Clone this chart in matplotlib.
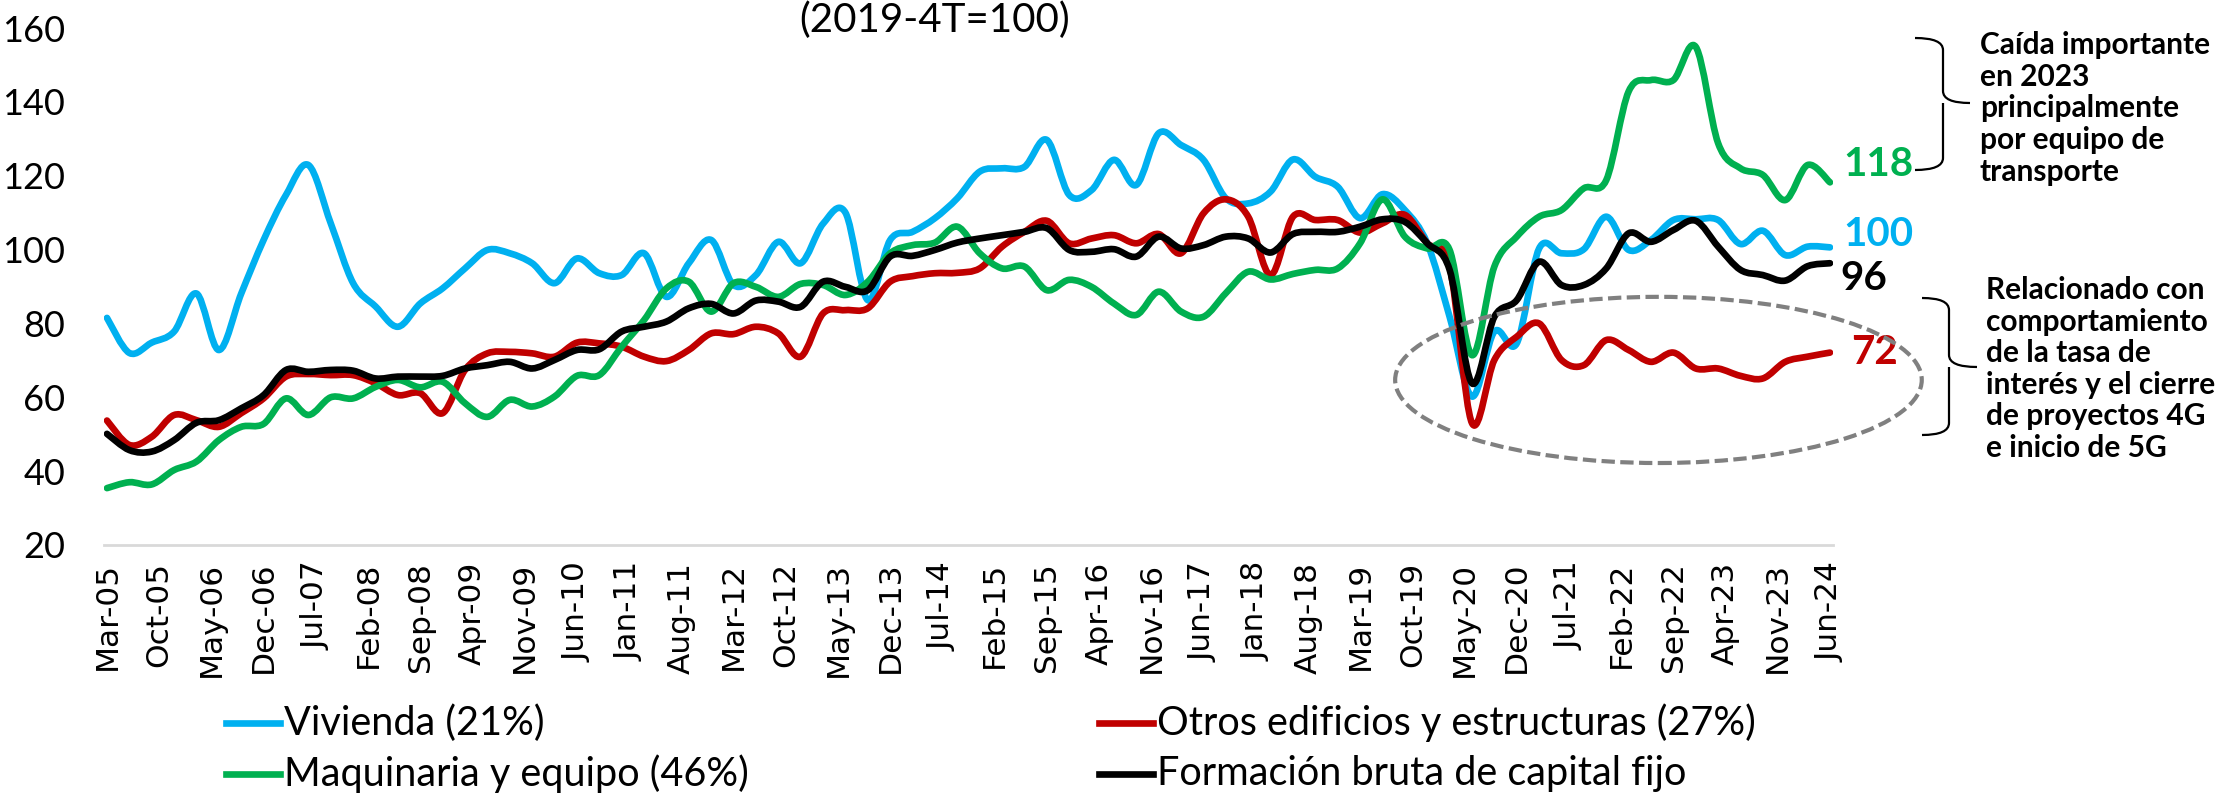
import numpy as np
import matplotlib
matplotlib.use("Agg")
import matplotlib.pyplot as plt
from matplotlib.path import Path
from matplotlib.patches import PathPatch, Ellipse
from matplotlib.lines import Line2D

plt.rcParams["font.family"] = ["Lato", "DejaVu Sans"]

# quarterly index values, Mar-05 .. Jun-24 (2019-4T = 100)
vivienda = [81.5, 72.0, 74.8, 77.8, 88.1, 72.8, 88.1, 102.6, 114.8, 122.9,
            107.1, 90.9, 84.6, 79.1, 85.4, 89.5, 94.9, 99.9, 99.0, 96.3,
            90.9, 97.6, 93.6, 93.1, 99.0, 87.2, 96.3, 102.6, 90.4, 93.1,
            102.1, 96.3, 107.0, 110.0, 86.3, 102.6, 104.8, 108.5, 113.9, 121.1,
            122.0, 122.4, 129.7, 114.8, 116.1, 124.3, 117.5, 131.5, 128.3, 124.3,
            113.9, 112.5, 115.7, 124.4, 119.7, 117.0, 108.5, 115.0, 110.7, 101.7,
            81.8, 60.2, 77.8, 74.6, 100.3, 99.0, 100.1, 108.9, 99.9, 102.6,
            108.0, 108.2, 108.0, 101.5, 105.1, 98.5, 100.8, 100.6]
otros = [53.7, 47.1, 49.3, 55.2, 53.8, 52.0, 55.7, 59.7, 65.6, 66.3,
         66.0, 66.0, 63.8, 60.6, 61.1, 55.7, 67.4, 71.9, 72.3, 71.9,
         71.0, 74.8, 74.6, 73.7, 71.0, 69.8, 72.8, 77.3, 77.1, 79.1,
         77.3, 71.0, 82.7, 83.6, 84.1, 91.3, 92.8, 93.6, 93.7, 94.9,
         100.8, 104.8, 107.8, 101.7, 103.0, 103.9, 101.7, 104.2, 99.0, 109.8,
         113.6, 108.9, 93.1, 108.9, 108.0, 108.0, 104.6, 107.1, 109.4, 101.7,
         95.4, 53.0, 70.1, 76.4, 80.0, 70.1, 68.7, 75.5, 72.8, 69.6,
         72.1, 67.8, 67.8, 65.8, 65.1, 69.6, 71.0, 72.1]
maquinaria = [35.4, 37.0, 36.4, 40.3, 42.6, 48.4, 52.0, 52.8, 59.7, 55.2,
              60.0, 59.7, 62.8, 64.7, 62.7, 64.2, 58.4, 54.7, 59.3, 57.5,
              60.2, 65.8, 66.0, 73.7, 80.9, 89.5, 91.3, 83.2, 90.9, 89.9,
              87.2, 90.7, 90.4, 87.7, 91.3, 99.0, 101.2, 101.9, 106.2, 99.0,
              94.9, 95.4, 89.0, 91.8, 89.9, 85.4, 82.3, 88.6, 83.2, 81.8,
              88.2, 94.0, 91.9, 93.4, 94.5, 94.9, 101.7, 113.6, 103.5, 100.3,
              99.9, 71.4, 95.4, 103.5, 108.9, 110.7, 116.6, 118.8, 142.8, 145.9,
              145.9, 154.9, 128.8, 122.0, 120.2, 113.4, 122.9, 118.2]
fbkf = [50.1, 45.7, 45.3, 48.4, 53.1, 53.8, 57.0, 60.6, 67.4, 66.9,
        67.4, 67.2, 65.1, 65.6, 65.6, 65.8, 67.8, 68.7, 69.6, 67.8,
        70.1, 72.8, 73.0, 77.8, 79.1, 80.5, 84.1, 85.3, 82.7, 86.2,
        85.9, 84.5, 91.3, 89.9, 89.0, 98.1, 98.3, 99.9, 101.9, 103.0,
        103.9, 104.8, 105.8, 99.9, 99.4, 100.1, 98.1, 103.5, 100.3, 101.2,
        103.5, 103.0, 99.2, 104.2, 104.8, 104.8, 106.2, 108.2, 107.5, 101.7,
        94.5, 63.8, 81.8, 86.3, 96.7, 90.4, 90.4, 94.9, 104.4, 102.1,
        105.3, 107.8, 100.8, 94.5, 93.1, 91.6, 95.5, 96.3]

tick_labels = ["Mar-05", "Oct-05", "May-06", "Dec-06", "Jul-07", "Feb-08", "Sep-08",
               "Apr-09", "Nov-09", "Jun-10", "Jan-11", "Aug-11", "Mar-12", "Oct-12",
               "May-13", "Dec-13", "Jul-14", "Feb-15", "Sep-15", "Apr-16", "Nov-16",
               "Jun-17", "Jan-18", "Aug-18", "Mar-19", "Oct-19", "May-20", "Dec-20",
               "Jul-21", "Feb-22", "Sep-22", "Apr-23", "Nov-23", "Jun-24"]

series = [
    ("Vivienda (21%)", vivienda, "#00B0F0"),
    ("Otros edificios y estructuras (27%)", otros, "#C00000"),
    ("Maquinaria y equipo (46%)", maquinaria, "#00B050"),
    ("Formación bruta de capital fijo", fbkf, "#000000"),
]

months = 3 * np.arange(len(vivienda))  # months since Mar-05


def smooth_path(x, y):
    # excel-like smoothed line: cubic bezier through every point
    verts = [(x[0], y[0])]
    codes = [Path.MOVETO]
    n = len(x)
    for i in range(n - 1):
        xa, ya = (x[i - 1], y[i - 1]) if i > 0 else (x[i], y[i])
        xb, yb = (x[i + 2], y[i + 2]) if i + 2 < n else (x[i + 1], y[i + 1])
        c1 = (x[i] + (x[i + 1] - xa) / 6, y[i] + (y[i + 1] - ya) / 6)
        c2 = (x[i + 1] - (xb - x[i]) / 6, y[i + 1] - (yb - y[i]) / 6)
        verts += [c1, c2, (x[i + 1], y[i + 1])]
        codes += [Path.CURVE4] * 3
    return Path(verts, codes)


W, H = 2215, 794
fig = plt.figure(figsize=(W / 100, H / 100), dpi=100)
ax = fig.add_axes([104 / W, 1 - 545 / H, 1729 / W, 517 / H])

for name, vals, col in series:
    ax.add_patch(PathPatch(smooth_path(months, np.array(vals)), fill=False,
                           edgecolor=col, lw=4.8, capstyle="round",
                           joinstyle="round", zorder=3))

ax.set_xlim(-0.4, 231.4)
ax.set_ylim(20, 160)
ax.set_yticks(range(20, 161, 20))
ax.set_xticks(np.arange(0, 232, 7))
ax.set_xticklabels(tick_labels, rotation=90, fontsize=22.5, family="DejaVu Sans")
ax.tick_params(axis="x", length=0, pad=12)
ax.tick_params(axis="y", length=0, pad=28, labelsize=26)
for s in ["top", "right", "left"]:
    ax.spines[s].set_visible(False)
ax.spines["bottom"].set_color("#D9D9D9")
ax.spines["bottom"].set_linewidth(2)

# end labels
end_labels = [("118", maquinaria, "#00B050", 13, 13),
              ("100", vivienda, "#00B0F0", 13, 9),
              ("96", fbkf, "#000000", 10, -11),
              ("72", otros, "#C00000", 21, 0)]
for txt, vals, col, dx, dy in end_labels:
    ax.annotate(txt, xy=(months[-1], vals[-1]), xytext=(dx * 0.72, dy),
                textcoords="offset points", ha="left", va="center",
                fontsize=29, fontweight="bold", color=col, annotation_clip=False)

# dashed ellipse around the last years of "otros"
ax.add_patch(Ellipse((208, 64.7), 70.6, 45, fill=False, edgecolor="#808080",
                     lw=3, ls=(0, (3.2, 1.3)), clip_on=False, zorder=4))

fig.text(935 / W, 1 - 32 / H, "(2019-4T=100)", ha="center", va="baseline",
         fontsize=29)


def brace(x_arm, x_spine, x_tip, y_top, y_mid, y_bot):
    r = 12
    pts = [(x_arm, y_top), (x_spine, y_top), (x_spine, y_top + r),
           (x_spine, y_mid - r), (x_spine, y_mid), (x_tip, y_mid),
           (x_spine, y_mid), (x_spine, y_mid + r),
           (x_spine, y_bot - r), (x_spine, y_bot), (x_arm, y_bot)]
    codes = [Path.MOVETO, Path.CURVE3, Path.CURVE3, Path.LINETO, Path.CURVE3,
             Path.CURVE3, Path.MOVETO, Path.CURVE3, Path.LINETO, Path.CURVE3,
             Path.CURVE3]
    pts = [(px / W, 1 - py / H) for px, py in pts]
    fig.add_artist(PathPatch(Path(pts, codes), fill=False, edgecolor="black",
                             lw=1.6, transform=fig.transFigure))


brace(1915, 1943, 1970, 38, 103, 170)
brace(1922, 1949, 1977, 298, 367, 435)

note1 = ["Caída importante", "en 2023", "principalmente", "por equipo de",
         "transporte"]
note2 = ["Relacionado con", "comportamiento", "de la tasa de",
         "interés y el cierre", "de proyectos 4G", "e inicio de 5G"]
for k, line in enumerate(note1):
    fig.text(1980 / W, 1 - (45 + 31.7 * k) / H, line, ha="left", va="center",
             fontsize=21.5, fontweight="bold")
for k, line in enumerate(note2):
    fig.text(1986 / W, 1 - (290 + 31.6 * k) / H, line, ha="left", va="center",
             fontsize=21.5, fontweight="bold")

# legend, two columns
legend_rows = [(226, 723, 0), (226, 774, 2), (1099, 723, 1), (1099, 774, 3)]
for x0, y0, idx in legend_rows:
    name, vals, col = series[idx]
    fig.add_artist(Line2D([x0 / W, (x0 + 54) / W], [1 - y0 / H, 1 - y0 / H],
                          color=col, lw=4.8, transform=fig.transFigure))
    fig.text((x0 + 58) / W, 1 - y0 / H, name, ha="left", va="center",
             fontsize=28.5)

fig.savefig("out.png", dpi=100)
